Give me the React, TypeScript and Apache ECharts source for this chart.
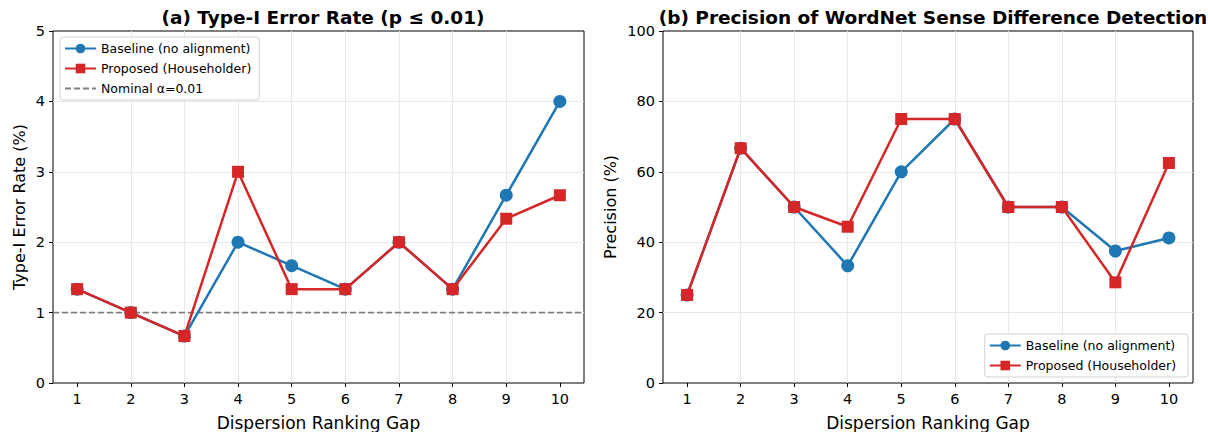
import React, { useEffect, useRef } from "react";
import * as echarts from "echarts";

const gaps = [1, 2, 3, 4, 5, 6, 7, 8, 9, 10];
const errBaseline = [1.333, 1.0, 0.667, 2.0, 1.667, 1.333, 2.0, 1.333, 2.667, 4.0];
const errProposed = [1.333, 1.0, 0.667, 3.0, 1.333, 1.333, 2.0, 1.333, 2.333, 2.667];
const nominalAlpha = 1.0;
const precBaseline = [25, 66.7, 50, 33.3, 60, 75, 50, 50, 37.5, 41.2];
const precProposed = [25, 66.7, 50, 44.4, 75, 75, 50, 50, 28.6, 62.5];

const FONT = "DejaVu Sans";
const BLUE = "#1f77b4";
const RED = "#d62728";

export default function App() {
  const ref = useRef<HTMLDivElement>(null);
  useEffect(() => {
    if (!ref.current) return;
    const chart = echarts.init(ref.current, null, { renderer: "svg" });
    const pair = (ys: number[]) => gaps.map((g, i) => [g, ys[i]]);
    const xAxis = (gi: number) => ({
      type: "value",
      gridIndex: gi,
      min: 0.55,
      max: 10.45,
      splitNumber: 10,
      name: "Dispersion Ranking Gap",
      nameLocation: "middle",
      nameGap: 31,
      nameTextStyle: { fontFamily: FONT, fontSize: 17, color: "#000" },
      axisLine: { show: false },
      axisTick: { show: true, length: 4, lineStyle: { color: "#000" }, customValues: gaps },
      axisLabel: {
        fontFamily: FONT,
        fontSize: 14.5,
        color: "#000",
        margin: 8,
        customValues: gaps,
        formatter: (v: number) => String(Math.round(v)),
      },
      splitLine: { show: true, showMinLine: false, showMaxLine: false, lineStyle: { color: "#e8e8e8", width: 1 } },
    });
    const yAxis = (gi: number, max: number, interval: number, name: string) => ({
      type: "value",
      gridIndex: gi,
      min: 0,
      max,
      interval,
      name,
      nameLocation: "middle",
      nameGap: gi === 0 ? 26 : 45,
      nameTextStyle: { fontFamily: FONT, fontSize: 16, color: "#000" },
      axisLine: { show: false },
      axisTick: { show: true, length: 4, lineStyle: { color: "#000" } },
      axisLabel: { fontFamily: FONT, fontSize: 14.5, color: "#000", margin: 8 },
      splitLine: { show: true, showMinLine: false, showMaxLine: false, lineStyle: { color: "#e8e8e8", width: 1 } },
    });
    const lineSeries = (name: string, data: number[][], gi: number, color: string, symbol: string) => ({
      type: "line",
      name,
      xAxisIndex: gi,
      yAxisIndex: gi,
      data,
      symbol,
      symbolSize: symbol === "circle" ? 13 : 12,
      lineStyle: { color, width: 2.5 },
      itemStyle: { color },
      z: color === RED ? 4 : 3,
    });
    const legendCommon = {
      orient: "vertical",
      backgroundColor: "#fff",
      borderColor: "#d0d0d0",
      borderWidth: 1,
      borderRadius: 3,
      padding: [5, 8, 5, 4],
      itemGap: 7,
      itemWidth: 31,
      itemHeight: 12,
      textStyle: { fontFamily: FONT, fontSize: 12.5, color: "#000" },
    };
    const gridCommon = {
      top: 31,
      height: 352,
      show: true,
      borderColor: "#000",
      borderWidth: 1,
      backgroundColor: "transparent",
      containLabel: false,
      outerBoundsMode: "none",
    };
    chart.setOption({
      animation: false,
      textStyle: { fontFamily: FONT },
      title: [
        {
          text: "(a) Type-I Error Rate (p ≤ 0.01)",
          left: 318,
          textAlign: "center",
          top: 3,
          textStyle: { fontFamily: FONT, fontSize: 18.5, fontWeight: "bold", color: "#000" },
        },
        {
          text: "(b) Precision of WordNet Sense Difference Detection",
          left: 928,
          textAlign: "center",
          top: 3,
          textStyle: { fontFamily: FONT, fontSize: 18.5, fontWeight: "bold", color: "#000" },
        },
      ],
      legend: [
        {
          ...legendCommon,
          left: 60,
          top: 37,
          data: [
            "Baseline (no alignment)",
            "Proposed (Householder)",
            { name: "Nominal α=0.01", itemStyle: { opacity: 0 } },
          ],
        },
        {
          ...legendCommon,
          right: 20,
          top: 334,
          data: ["Baseline (no alignment) ", "Proposed (Householder) "],
        },
      ],
      grid: [
        { ...gridCommon, left: 53, width: 531 },
        { ...gridCommon, left: 663, width: 530 },
      ],
      xAxis: [xAxis(0), xAxis(1)],
      yAxis: [yAxis(0, 5, 1, "Type-I Error Rate (%)"), yAxis(1, 100, 20, "Precision (%)")],
      series: [
        {
          type: "line",
          name: "Nominal α=0.01",
          xAxisIndex: 0,
          yAxisIndex: 0,
          data: [[0.55, nominalAlpha], [10.45, nominalAlpha]],
          symbol: "none",
          lineStyle: { color: "#808080", width: 1.8, type: [6, 3] },
          itemStyle: { color: "#808080" },
          z: 2,
        },
        lineSeries("Baseline (no alignment)", pair(errBaseline), 0, BLUE, "circle"),
        lineSeries("Proposed (Householder)", pair(errProposed), 0, RED, "rect"),
        lineSeries("Baseline (no alignment) ", pair(precBaseline), 1, BLUE, "circle"),
        lineSeries("Proposed (Householder) ", pair(precProposed), 1, RED, "rect"),
      ],
    });
    return () => chart.dispose();
  }, []);
  return <div ref={ref} style={{ width: 1208, height: 432, position: "absolute", left: 0, top: 0 }} />;
}
